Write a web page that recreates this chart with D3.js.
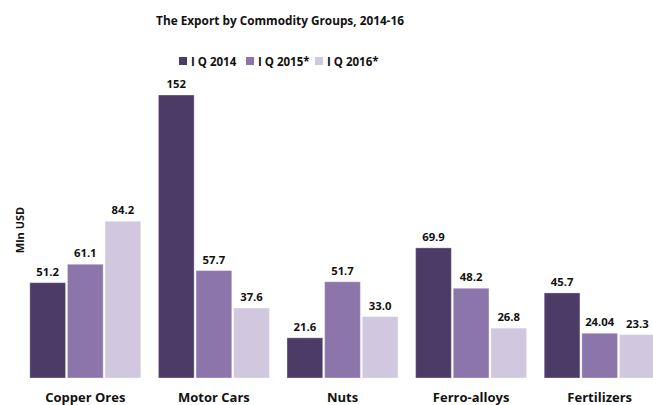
<!DOCTYPE html>
<html>
<head>
<meta charset="utf-8">
<script src="https://cdn.jsdelivr.net/npm/d3@7"></script>
<style>
  body { margin: 0; background: #fff; }
  svg text { font-family: "Open Sans", sans-serif; font-weight: bold; fill: #111; }
</style>
</head>
<body>
<svg id="chart" width="653" height="405"></svg>
<script>
"use strict";

// data
const categories = ["Copper Ores", "Motor Cars", "Nuts", "Ferro-alloys", "Fertilizers"];
const seriesNames = ["I Q 2014", "I Q 2015*", "I Q 2016*"];
const q2014 = [51.2, 152, 21.6, 69.9, 45.7];
const q2015 = [61.1, 57.7, 51.7, 48.2, 24.04];
const q2016 = [84.2, 37.6, 33.0, 26.8, 23.3];
const valueLabels = [
  ["51.2", "152", "21.6", "69.9", "45.7"],
  ["61.1", "57.7", "51.7", "48.2", "24.04"],
  ["84.2", "37.6", "33.0", "26.8", "23.3"]
];
const colors = ["#4b3b66", "#8c75ab", "#d1c8df"];

const series = [q2014, q2015, q2016];

const svg = d3.select("#chart");

// scales
const x0 = d3.scaleBand()
  .domain(categories)
  .range([21, 664])
  .paddingInner(0.137)
  .paddingOuter(0.0685);

const x1 = d3.scaleBand()
  .domain(d3.range(series.length))
  .range([0, x0.bandwidth()])
  .paddingInner(0.05);

const y = d3.scaleLinear()
  .domain([0, 152])
  .range([378, 95]);

// title
svg.append("text")
  .attr("x", 280)
  .attr("y", 25)
  .attr("text-anchor", "middle")
  .style("font-size", "11.8px")
  .text("The Export by Commodity Groups, 2014-16");

// legend
const legendX = [179, 246, 315];
const legend = svg.append("g").attr("class", "legend");
seriesNames.forEach((name, i) => {
  legend.append("rect")
    .attr("x", legendX[i])
    .attr("y", 57)
    .attr("width", 8)
    .attr("height", 8)
    .attr("fill", colors[i]);
  legend.append("text")
    .attr("x", legendX[i] + 12)
    .attr("y", 65.5)
    .style("font-size", "11.5px")
    .text(name);
});

// y-axis title
svg.append("text")
  .attr("transform", "translate(24,230) rotate(-90)")
  .attr("text-anchor", "middle")
  .style("font-size", "11px")
  .text("Mln USD");

// bar groups
const groups = svg.selectAll(".catgroup")
    .data(categories)
  .enter().append("g")
    .attr("class", "catgroup")
    .attr("transform", (d) => "translate(" + x0(d) + ",0)");

series.forEach((vals, s) => {
  groups.append("rect")
    .attr("x", x1(s))
    .attr("y", (d, i) => y(vals[i]))
    .attr("width", x1.bandwidth())
    .attr("height", (d, i) => y(0) - y(vals[i]))
    .attr("fill", colors[s])
    .attr("stroke", "#ffffff")
    .attr("stroke-opacity", 0.35)
    .attr("stroke-width", 1);

  groups.append("text")
    .attr("x", x1(s) + x1.bandwidth() / 2)
    .attr("y", (d, i) => y(vals[i]) - 7)
    .attr("text-anchor", "middle")
    .style("font-size", "11.3px")
    .text((d, i) => valueLabels[s][i]);
});

// x-axis labels
const xAxis = d3.axisBottom(x0).tickSize(0).tickPadding(0);
const xg = svg.append("g")
  .attr("transform", "translate(0,390)")
  .call(xAxis);
xg.select(".domain").remove();
xg.selectAll("text")
  .attr("dy", "0.95em")
  .style("font-size", "13px")
  .style("font-family", "'Open Sans', sans-serif")
  .style("font-weight", "bold")
  .attr("fill", "#111");
</script>
</body>
</html>
